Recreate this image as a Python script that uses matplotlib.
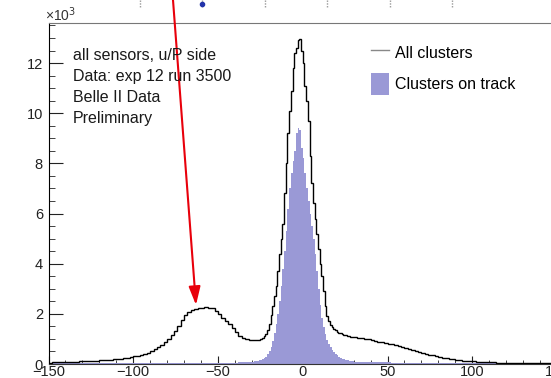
import numpy as np
import matplotlib
matplotlib.use("Agg")
import matplotlib.pyplot as plt
from matplotlib.lines import Line2D
from matplotlib.patches import Patch

plt.rcParams["font.family"] = ["Liberation Sans", "DejaVu Sans"]

# bin edges: 2-unit bins in the tails, 1-unit bins around the peak
edges_left = np.arange(-150, -30, 2)
edges_core = np.arange(-30, 30, 1)
edges_right = np.arange(30, 151, 2)
edges = np.concatenate([edges_left, edges_core, edges_right]).astype(float)

# all clusters (x10^3 entries)
all_left = [
    0.05, 0.06, 0.06, 0.07, 0.07, 0.08, 0.08, 0.09, 0.09, 0.10,
    0.10, 0.11, 0.12, 0.13, 0.13, 0.14, 0.15, 0.16, 0.17, 0.18,
    0.19, 0.20, 0.22, 0.24, 0.28, 0.30, 0.33, 0.36, 0.40, 0.45,
    0.51, 0.58, 0.66, 0.76, 0.88, 1.00, 1.15, 1.32, 1.52, 1.74,
    1.94, 2.08, 2.16, 2.20, 2.23, 2.24, 2.26, 2.25, 2.22, 2.12,
    2.00, 1.84, 1.70, 1.58, 1.42, 1.26, 1.13, 1.04, 0.99, 0.97,
]
all_core = [
    0.96, 0.96, 0.95, 0.95, 0.96, 0.98, 1.03, 1.10, 1.20, 1.35,
    1.60, 1.95, 2.30, 2.70, 3.10, 3.70, 4.40, 5.00, 5.60, 6.80,
    8.00, 9.20, 10.10, 10.90, 11.80, 12.40, 12.60, 12.90, 12.95, 12.50,
    12.00, 11.10, 10.50, 9.70, 8.30, 7.20, 6.40, 5.80, 5.20, 4.60,
    4.00, 3.50, 2.90, 2.30, 1.90, 1.70, 1.55, 1.47, 1.40, 1.34,
    1.29, 1.25, 1.22, 1.19, 1.16, 1.14, 1.12, 1.10, 1.09, 1.07,
]
all_right = [
    1.06, 1.04, 1.02, 1.00, 0.98, 0.95, 0.92, 0.89, 0.86, 0.84,
    0.81, 0.78, 0.75, 0.71, 0.67, 0.63, 0.59, 0.55, 0.51, 0.48,
    0.44, 0.41, 0.37, 0.34, 0.31, 0.28, 0.25, 0.22, 0.20, 0.18,
    0.16, 0.15, 0.13, 0.12, 0.11, 0.10, 0.09, 0.08, 0.08, 0.07,
    0.06, 0.06, 0.05, 0.05, 0.04, 0.04, 0.04, 0.03, 0.03, 0.03,
    0.03, 0.03, 0.03, 0.02, 0.02, 0.02, 0.02, 0.02, 0.02, 0.02,
]

# clusters on track (x10^3 entries)
trk_left = [
    0.03, 0.03, 0.03, 0.03, 0.03, 0.03, 0.03, 0.03, 0.04, 0.04,
    0.04, 0.04, 0.04, 0.04, 0.04, 0.04, 0.04, 0.04, 0.05, 0.05,
    0.05, 0.05, 0.05, 0.05, 0.05, 0.05, 0.05, 0.05, 0.05, 0.05,
    0.05, 0.05, 0.05, 0.05, 0.05, 0.05, 0.05, 0.05, 0.05, 0.05,
    0.05, 0.05, 0.05, 0.05, 0.05, 0.05, 0.05, 0.05, 0.05, 0.05,
    0.05, 0.05, 0.05, 0.05, 0.05, 0.05, 0.06, 0.06, 0.07, 0.08,
]
trk_core = [
    0.09, 0.10, 0.11, 0.12, 0.14, 0.16, 0.19, 0.23, 0.29, 0.38,
    0.50, 0.68, 0.92, 1.22, 1.58, 2.00, 2.50, 3.10, 3.80, 4.50,
    5.30, 6.20, 7.00, 7.60, 8.10, 8.50, 9.20, 9.40, 9.35, 8.60,
    8.20, 7.60, 7.00, 6.50, 6.00, 5.50, 5.00, 4.40, 3.70, 3.00,
    2.35, 1.85, 1.48, 1.18, 0.96, 0.80, 0.68, 0.57, 0.48, 0.40,
    0.34, 0.29, 0.25, 0.21, 0.18, 0.16, 0.14, 0.12, 0.11, 0.10,
]
trk_right = [
    0.09, 0.08, 0.08, 0.07, 0.07, 0.07, 0.06, 0.06, 0.06, 0.06,
    0.06, 0.05, 0.05, 0.05, 0.05, 0.05, 0.05, 0.05, 0.05, 0.05,
    0.05, 0.04, 0.04, 0.04, 0.04, 0.04, 0.04, 0.04, 0.04, 0.04,
    0.03, 0.03, 0.03, 0.03, 0.03, 0.03, 0.03, 0.03, 0.03, 0.03,
    0.03, 0.03, 0.02, 0.02, 0.02, 0.02, 0.02, 0.02, 0.02, 0.02,
    0.02, 0.02, 0.02, 0.02, 0.02, 0.02, 0.02, 0.02, 0.02, 0.02,
]

all_clusters = np.array(all_left + all_core + all_right)
on_track = np.array(trk_left + trk_core + trk_right)

info_lines = ["all sensors, u/P side", "Data: exp 12 run 3500", "Belle II Data", "Preliminary"]

purple = "#9a99d6"
W, H = 551, 378
dpi = 100
fig = plt.figure(figsize=(W / dpi, H / dpi), dpi=dpi, facecolor="white")
ax = fig.add_axes([48.5 / W, 14 / H, 508.5 / W, 341 / H])

# filled histogram as one step polygon
ax.fill_between(edges, np.append(on_track, on_track[-1]), step="post",
                facecolor=purple, edgecolor="none", lw=0, zorder=2)
ax.stairs(all_clusters, edges, color="black", lw=1.0, zorder=3)

ax.set_xlim(-150, 150)
ax.set_ylim(0, 341 / 25.08)

ax.set_xticks([-150, -100, -50, 0, 50, 100, 150])
ax.set_xticklabels(["\u2212150", "\u2212100", "\u221250", "0", "50", "100", "150"])
ax.set_xticks(np.arange(-150, 151, 10), minor=True)
ax.set_yticks([0, 2, 4, 6, 8, 10, 12])
ax.set_yticks(np.arange(0, 13.6, 0.5), minor=True)
ax.tick_params(axis="both", which="both", direction="in", labelsize=10.5, colors="#222222")
ax.tick_params(axis="x", which="major", length=6, pad=1)
ax.tick_params(axis="x", which="minor", length=3)
ax.tick_params(axis="y", which="major", length=10, pad=4)
ax.tick_params(axis="y", which="minor", length=4.5)
ax.spines["left"].set_color("black")
ax.spines["bottom"].set_color("#333333")
ax.spines["top"].set_color("#777777")
ax.spines["right"].set_visible(False)

fig.text(45 / W, 1 - 15 / H, "\u00d710$^{3}$", fontsize=10, color="#333333", va="center", ha="left")

for i, line in enumerate(info_lines):
    fig.text(73 / W, 1 - (55 + 21 * i) / H, line, fontsize=11.5, color="#1a1a1a", va="center", ha="left")

handles = [Line2D([], [], color="#888888", lw=1), Patch(facecolor=purple, edgecolor="none")]
ax.legend(handles, ["All clusters", "Clusters on track"], loc="upper left",
          bbox_to_anchor=(371 / W, 1 - 42 / H), bbox_transform=fig.transFigure,
          frameon=False, fontsize=11.5, handlelength=1.15, handleheight=1.75,
          handletextpad=0.35, labelspacing=0.55, borderaxespad=0, borderpad=0)

# remnants of the panel above
for px in [140, 202, 265, 327, 390, 452]:
    fig.add_artist(Line2D([px / W, px / W], [1, 1 - 8 / H], color="#999999", lw=1, ls=(0, (1, 1))))
fig.add_artist(Line2D([202 / W], [1 - 4 / H], marker="o", ms=3, color="#2233aa", lw=0))

# red arrow pointing at the hump
ax.annotate("", xy=(196 / W, 1 - 305 / H), xytext=(173 / W, 1.0),
            xycoords="figure fraction", textcoords="figure fraction",
            arrowprops=dict(arrowstyle="-|>,head_length=1.1,head_width=0.35", color="#e8000b", lw=1.5,
                            shrinkA=0, shrinkB=0))

fig.savefig("out.png", dpi=dpi, facecolor="white")
